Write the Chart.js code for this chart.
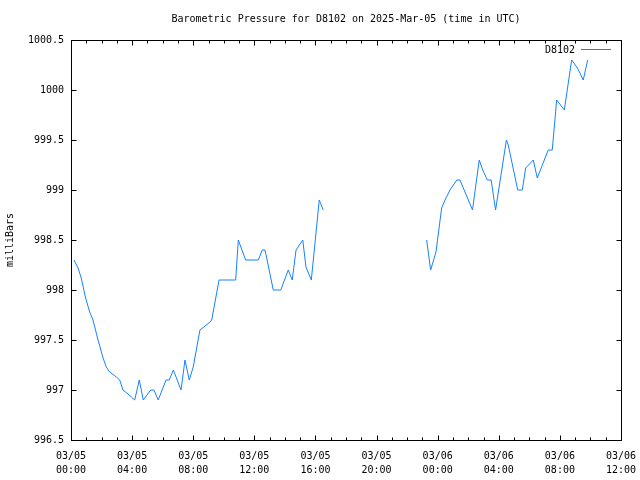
<!DOCTYPE html>
<html>
<head>
<meta charset="utf-8">
<script src="https://cdn.jsdelivr.net/npm/chart.js@4/dist/chart.umd.min.js"></script>
<style>
  html, body { margin: 0; padding: 0; background: #ffffff; }
  #wrap { width: 640px; height: 480px; position: relative; }
</style>
</head>
<body>
<div id="wrap"><canvas id="c" width="640" height="480"></canvas></div>
<script>
// ---- data (hours since 2025-03-05 00:00 UTC) ----
const hours = [
  0.2, 0.46, 0.67, 0.94, 1.22, 1.44, 1.77, 2.1, 2.31, 2.53, 2.97, 3.19, 3.4, 3.73, 3.95,
  4.17, 4.47, 4.73, 5.22, 5.43, 5.71, 6.22, 6.43, 6.7, 7.2, 7.46, 7.74, 8.0, 8.44, 8.7,
  9.1, 9.21, 9.69, 10.78, 10.95, 11.43, 12.26, 12.52, 12.7, 13.24, 13.73, 14.22, 14.48,
  14.73, 15.17, 15.38, 15.73, 16.25, 16.51,
  20.0,
  23.28, 23.54, 23.89, 24.26, 24.48, 24.81, 25.25, 25.46, 26.28, 26.72, 26.95, 27.25,
  27.5, 27.79, 28.5, 28.62, 29.24, 29.54, 29.76, 30.26, 30.52, 31.24, 31.5, 31.79,
  32.29, 32.77, 33.15, 33.53, 33.82
];
const pressure = [
  998.3, 998.22, 998.12, 997.93, 997.78, 997.7, 997.5, 997.32, 997.23, 997.18, 997.13, 997.1, 997.0, 996.96, 996.93,
  996.9, 997.1, 996.9, 997.0, 997.0, 996.9, 997.1, 997.1, 997.2, 997.0, 997.3, 997.1, 997.23, 997.6, 997.63,
  997.68, 997.7, 998.1, 998.1, 998.5, 998.3, 998.3, 998.4, 998.4, 998.0, 998.0, 998.2, 998.1,
  998.4, 998.5, 998.23, 998.1, 998.9, 998.8,
  null,
  998.5, 998.2, 998.38, 998.82, 998.9, 999.0, 999.1, 999.1, 998.8, 999.3, 999.2, 999.1,
  999.1, 998.8, 999.5, 999.45, 999.0, 999.0, 999.22, 999.3, 999.12, 999.4, 999.4, 999.9,
  999.8, 1000.3, 1000.22, 1000.1, 1000.3
];
const xTickLabels = [
  ["03/05", "00:00"], ["03/05", "04:00"], ["03/05", "08:00"], ["03/05", "12:00"],
  ["03/05", "16:00"], ["03/05", "20:00"], ["03/06", "00:00"], ["03/06", "04:00"],
  ["03/06", "08:00"], ["03/06", "12:00"]
];
const seriesName = "D8102";
const chartTitle = "Barometric Pressure for D8102 on 2025-Mar-05 (time in UTC)";
const yTitle = "milliBars";

const MONO = "'DejaVu Sans Mono', 'Liberation Mono', monospace";
const LINE_COLOR = "#1482ff";

const points = hours.map((h, i) => ({ x: h, y: pressure[i] }));

const framePlugin = {
  id: 'frame',
  afterDraw(chart) {
    const ctx = chart.ctx;
    const a = chart.chartArea;
    const xs = chart.scales.x, ys = chart.scales.y;
    ctx.save();
    ctx.strokeStyle = '#000';
    ctx.lineWidth = 1;
    const L = Math.round(a.left) + 0.5, R = Math.round(a.right) + 0.5;
    const T = Math.round(a.top) + 0.5, B = Math.round(a.bottom) + 0.5;
    ctx.beginPath();
    // y ticks (major, mirrored)
    for (let v = 996.5; v <= 1000.5 + 1e-6; v += 0.5) {
      const y = Math.round(ys.getPixelForValue(v)) + 0.5;
      ctx.moveTo(L, y); ctx.lineTo(L + 5, y);
      ctx.moveTo(R, y); ctx.lineTo(R - 5, y);
    }
    // x ticks: major every 4 h, minor every hour (mirrored)
    for (let h = 0; h <= 36; h++) {
      const x = Math.round(xs.getPixelForValue(h)) + 0.5;
      const len = (h % 4 === 0) ? 5 : 3;
      ctx.moveTo(x, B); ctx.lineTo(x, B - len);
      ctx.moveTo(x, T); ctx.lineTo(x, T + len);
    }
    ctx.stroke();
    ctx.strokeRect(L, T, R - L, B - T);

    // title
    ctx.fillStyle = '#000';
    ctx.font = '10px ' + MONO;
    ctx.textAlign = 'center';
    ctx.textBaseline = 'middle';
    ctx.fillText(chartTitle, (a.left + a.right) / 2, 19);

    // key
    ctx.textAlign = 'right';
    ctx.fillText(seriesName, 575, 50);
    ctx.strokeStyle = LINE_COLOR;
    ctx.beginPath();
    ctx.moveTo(581, 49.5); ctx.lineTo(611, 49.5);
    ctx.stroke();
    ctx.restore();
  }
};

new Chart(document.getElementById('c'), {
  type: 'line',
  data: {
    datasets: [{
      label: seriesName,
      data: points,
      borderColor: LINE_COLOR,
      backgroundColor: LINE_COLOR,
      borderWidth: 1,
      pointRadius: 0,
      tension: 0,
      spanGaps: false,
      fill: false
    }]
  },
  options: {
    responsive: false,
    animation: false,
    devicePixelRatio: 1,
    layout: { padding: { top: 40, right: 19, left: 0, bottom: 0 } },
    plugins: {
      legend: { display: false },
      title: { display: false },
      tooltip: { enabled: false }
    },
    scales: {
      x: {
        type: 'linear',
        min: 0, max: 36,
        grid: { display: false, drawTicks: false },
        border: { display: false },
        afterFit(scale) {
          scale.height = 40;
          scale.paddingLeft = 0;
          scale.paddingRight = 0;
        },
        ticks: {
          stepSize: 4,
          autoSkip: false,
          maxRotation: 0,
          padding: 9,
          color: '#000',
          font: { family: MONO, size: 10, lineHeight: 1.4 },
          callback: (v) => xTickLabels[Math.round(v / 4)]
        }
      },
      y: {
        min: 996.5, max: 1000.5,
        grid: { display: false, drawTicks: false },
        border: { display: false },
        afterFit(scale) {
          scale.width = 71;
          scale.paddingTop = 0;
          scale.paddingBottom = 0;
        },
        title: {
          display: true,
          text: yTitle,
          color: '#000',
          font: { family: MONO, size: 10 },
          padding: { top: 4, bottom: 0 }
        },
        ticks: {
          stepSize: 0.5,
          padding: 7,
          color: '#000',
          font: { family: MONO, size: 10 },
          callback: (v) => String(Math.round(v * 10) / 10)
        }
      }
    }
  },
  plugins: [framePlugin]
});
</script>
</body>
</html>
